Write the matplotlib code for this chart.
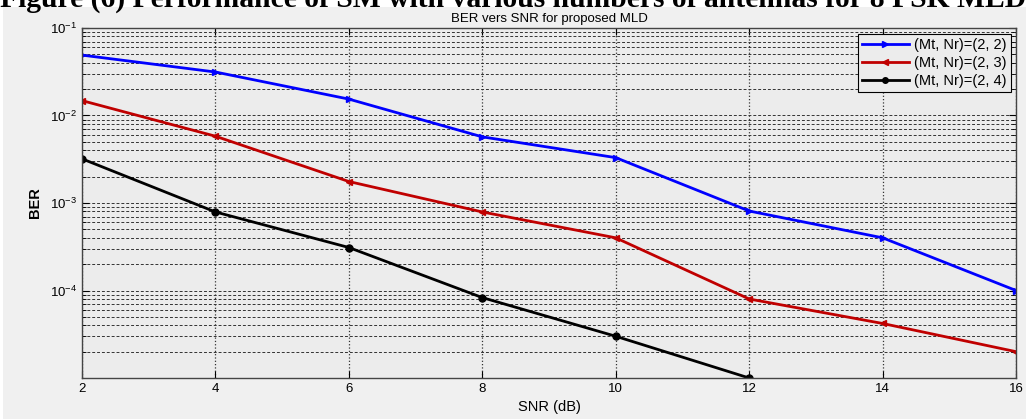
import numpy as np
import matplotlib
matplotlib.use("Agg")
import matplotlib.pyplot as plt
from matplotlib.ticker import LogLocator, NullFormatter, FixedLocator
from matplotlib.patches import Rectangle

# valores
snr = [2, 4, 6, 8, 10, 12, 14, 16]
ber_22 = [0.049, 0.0314, 0.0154, 0.0057, 0.0033, 0.00081, 0.0004, 0.0001]
ber_23 = [0.0148, 0.0058, 0.00176, 0.00079, 0.0004, 0.00008, 0.000042, 0.00002]
ber_24 = [0.0032, 0.00079, 0.00031, 0.000083, 0.00003, 0.00001]
labels = ["(Mt, Nr)=(2, 2)", "(Mt, Nr)=(2, 3)", "(Mt, Nr)=(2, 4)"]
caption = "Figure (6) Performance of SM with various numbers of antennas for 8 PSK MLD"

plt.rcParams["font.family"] = ["Liberation Sans", "DejaVu Sans"]
bg = "#ececec"

fig = plt.figure(figsize=(10.26, 4.19), dpi=100)
fig.patch.set_facecolor("white")
# panel gris de la captura de matlab
fig.patches.append(Rectangle((3 / 1026, 0), 1, 1 - 7 / 419, transform=fig.transFigure,
                             facecolor="#f0f0f0", edgecolor="none", zorder=-10))

# titulo de la figura, cortado arriba como en la captura
fig.text(0.0, 1.0 - 7 / 419, caption, family="Liberation Serif", weight="bold",
         fontsize=21.3, ha="left", va="baseline", zorder=-5)

ax = fig.add_axes([82 / 1026, 1 - 378 / 419, (1016 - 82) / 1026, (378 - 28) / 419])
ax.set_facecolor(bg)

ax.semilogy(snr, ber_22, color="#0000ff", lw=2, marker=">", ms=5, label=labels[0])
ax.semilogy(snr, ber_23, color="#c00000", lw=2, marker="<", ms=5, label=labels[1])
ax.semilogy(snr[:len(ber_24)], ber_24, color="black", lw=2, marker="o", ms=5, label=labels[2])

ax.set_xlim(2, 16)
ax.set_ylim(1e-5, 1e-1)
ax.set_xticks(snr)
ax.yaxis.set_major_locator(FixedLocator([1e-4, 1e-3, 1e-2, 1e-1]))
ax.yaxis.set_minor_locator(LogLocator(base=10, subs=np.arange(2, 10)))
ax.yaxis.set_minor_formatter(NullFormatter())

ax.grid(True, axis="x", which="major", ls=":", color="#333333", lw=0.9)
ax.grid(True, axis="y", which="both", ls=(0, (3, 2)), color="#333333", lw=0.7)

ax.tick_params(which="both", direction="in", top=True, right=True, labelsize=9.5)
ax.tick_params(which="major", length=5)
ax.tick_params(which="minor", length=3)
for s in ax.spines.values():
    s.set_color("#444444")
    s.set_linewidth(1.0)

ax.set_title("BER vers SNR for proposed MLD", fontsize=9.5, pad=4)
ax.set_xlabel("SNR (dB)", fontsize=10.5, labelpad=4)
ax.set_ylabel("BER", fontsize=10.5, weight="bold", labelpad=6)

leg = ax.legend(loc="upper right", bbox_to_anchor=(0.995, 0.983), fontsize=10.5,
                fancybox=False, framealpha=1, facecolor=bg, edgecolor="black",
                handlelength=3.2, borderpad=0.3, labelspacing=0.25, handletextpad=0.4,
                borderaxespad=0, markerscale=0.8)
leg.get_frame().set_linewidth(0.8)

fig.savefig("out.png", dpi=100, facecolor=fig.get_facecolor())
